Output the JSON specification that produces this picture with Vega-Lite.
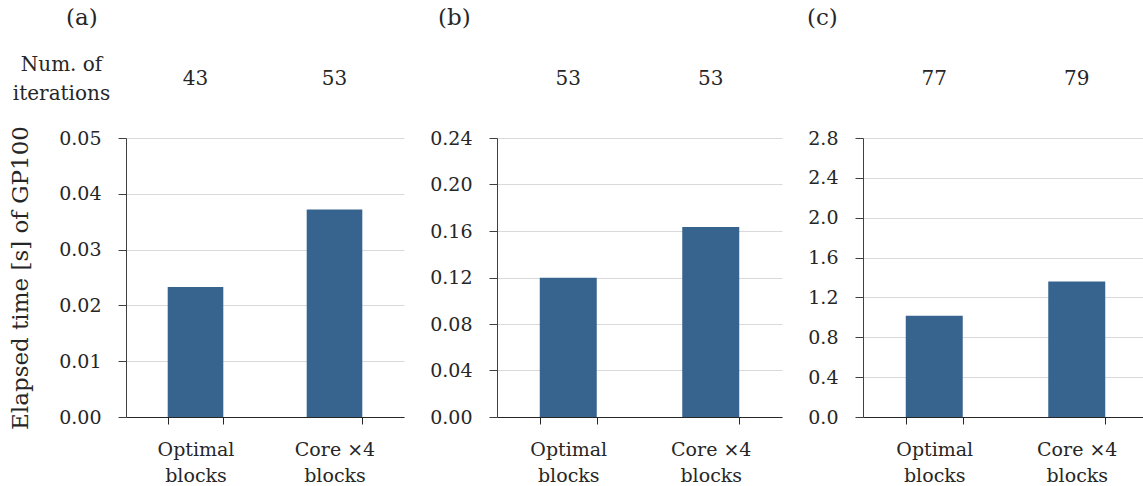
{
  "$schema": "https://vega.github.io/schema/vega-lite/v6.json",
  "padding": {"left": 9, "top": 7, "right": 0, "bottom": 0},
  "background": "white",
  "data": {"values": [
    {"panel": "a", "cat": "Optimal\nblocks", "time": 0.0233, "iter": 43},
    {"panel": "a", "cat": "Core ×4\nblocks", "time": 0.0372, "iter": 53},
    {"panel": "b", "cat": "Optimal\nblocks", "time": 0.1197, "iter": 53},
    {"panel": "b", "cat": "Core ×4\nblocks", "time": 0.1635, "iter": 53},
    {"panel": "c", "cat": "Optimal\nblocks", "time": 1.015, "iter": 77},
    {"panel": "c", "cat": "Core ×4\nblocks", "time": 1.36, "iter": 79}
  ]},
  "columns": 3,
  "align": "each",
  "spacing": {"row": 21, "column": 25},
  "concat": [
    {
      "width": 278, "height": 50,
      "title": {"text": "(a)", "anchor": "start", "frame": "group", "dx": -60, "offset": 24},
      "transform": [{"filter": "datum.panel == 'a'"}],
      "mark": {"type": "text", "fontSize": 20},
      "encoding": {
        "x": {"field": "cat", "type": "nominal", "sort": null, "scale": {"paddingInner": 0.6, "paddingOuter": 0.3}, "axis": null},
        "y": {"datum": "Num. of\niterations", "type": "nominal", "axis": {"title": null, "domain": false, "ticks": false, "tickSize": 0, "grid": false, "labelPadding": 65, "labelOffset": -15, "labelAlign": "center", "labelBaseline": "middle", "labelFontSize": 20, "labelLineHeight": 29, "labelExpr": "split(datum.label, '\\n')"}},
        "text": {"field": "iter", "type": "nominal"}
      }
    },
    {
      "width": 285, "height": 50,
      "title": {"text": "(b)", "anchor": "start", "frame": "group", "dx": -59, "offset": 24},
      "transform": [{"filter": "datum.panel == 'b'"}],
      "mark": {"type": "text", "fontSize": 20},
      "encoding": {
        "x": {"field": "cat", "type": "nominal", "sort": null, "scale": {"paddingInner": 0.6, "paddingOuter": 0.3}, "axis": null},
        "text": {"field": "iter", "type": "nominal"}
      }
    },
    {
      "width": 285, "height": 50,
      "title": {"text": "(c)", "anchor": "start", "frame": "group", "dx": -56, "offset": 24},
      "transform": [{"filter": "datum.panel == 'c'"}],
      "mark": {"type": "text", "fontSize": 20},
      "encoding": {
        "x": {"field": "cat", "type": "nominal", "sort": null, "scale": {"paddingInner": 0.6, "paddingOuter": 0.3}, "axis": null},
        "text": {"field": "iter", "type": "nominal"}
      }
    },
    {
      "width": 278, "height": 279,
      "transform": [{"filter": "datum.panel == 'a'"}],
      "mark": {"type": "bar", "color": "#36648e"},
      "encoding": {
        "x": {"field": "cat", "type": "nominal", "sort": null, "scale": {"paddingInner": 0.6, "paddingOuter": 0.3},
          "axis": {"title": null, "labelAngle": 0, "labelExpr": "split(datum.label, '\\n')", "tickBand": "extent", "domainColor": "#262626", "tickColor": "#262626", "tickSize": 7, "labelPadding": 16, "labelLineHeight": 26, "labelBaseline": "top", "grid": false}},
        "y": {"field": "time", "type": "quantitative", "scale": {"domain": [0, 0.05], "nice": false},
          "axis": {"title": "Elapsed time [s] of GP100", "values": [0, 0.01, 0.02, 0.03, 0.04, 0.05], "format": ".2f", "titleFontSize": 23, "titlePadding": 26}}
      }
    },
    {
      "width": 285, "height": 279,
      "transform": [{"filter": "datum.panel == 'b'"}],
      "mark": {"type": "bar", "color": "#36648e"},
      "encoding": {
        "x": {"field": "cat", "type": "nominal", "sort": null, "scale": {"paddingInner": 0.6, "paddingOuter": 0.3},
          "axis": {"title": null, "labelAngle": 0, "labelExpr": "split(datum.label, '\\n')", "tickBand": "extent", "domainColor": "#262626", "tickColor": "#262626", "tickSize": 7, "labelPadding": 16, "labelLineHeight": 26, "labelBaseline": "top", "grid": false}},
        "y": {"field": "time", "type": "quantitative", "scale": {"domain": [0, 0.24], "nice": false},
          "axis": {"title": null, "values": [0, 0.04, 0.08, 0.12, 0.16, 0.2, 0.24], "format": ".2f"}}
      }
    },
    {
      "width": 285, "height": 279,
      "transform": [{"filter": "datum.panel == 'c'"}],
      "mark": {"type": "bar", "color": "#36648e"},
      "encoding": {
        "x": {"field": "cat", "type": "nominal", "sort": null, "scale": {"paddingInner": 0.6, "paddingOuter": 0.3},
          "axis": {"title": null, "labelAngle": 0, "labelExpr": "split(datum.label, '\\n')", "tickBand": "extent", "domainColor": "#262626", "tickColor": "#262626", "tickSize": 7, "labelPadding": 16, "labelLineHeight": 26, "labelBaseline": "top", "grid": false}},
        "y": {"field": "time", "type": "quantitative", "scale": {"domain": [0, 2.8], "nice": false},
          "axis": {"title": null, "values": [0, 0.4, 0.8, 1.2, 1.6, 2.0, 2.4, 2.8], "format": ".1f"}}
      }
    }
  ],
  "config": {
    "font": "DejaVu Serif",
    "view": {"stroke": null},
    "axis": {"labelFont": "DejaVu Serif", "labelFontSize": 19, "labelColor": "#262626", "titleFont": "DejaVu Serif", "titleFontWeight": "normal", "titleColor": "#262626", "gridColor": "#d9d9d9", "domainColor": "#404040", "tickColor": "#404040", "tickSize": 8},
    "axisY": {"grid": true, "labelPadding": 17},
    "title": {"font": "DejaVu Serif", "fontSize": 23, "fontWeight": "normal", "color": "#262626"},
    "text": {"font": "DejaVu Serif", "color": "#262626"}
  }
}
